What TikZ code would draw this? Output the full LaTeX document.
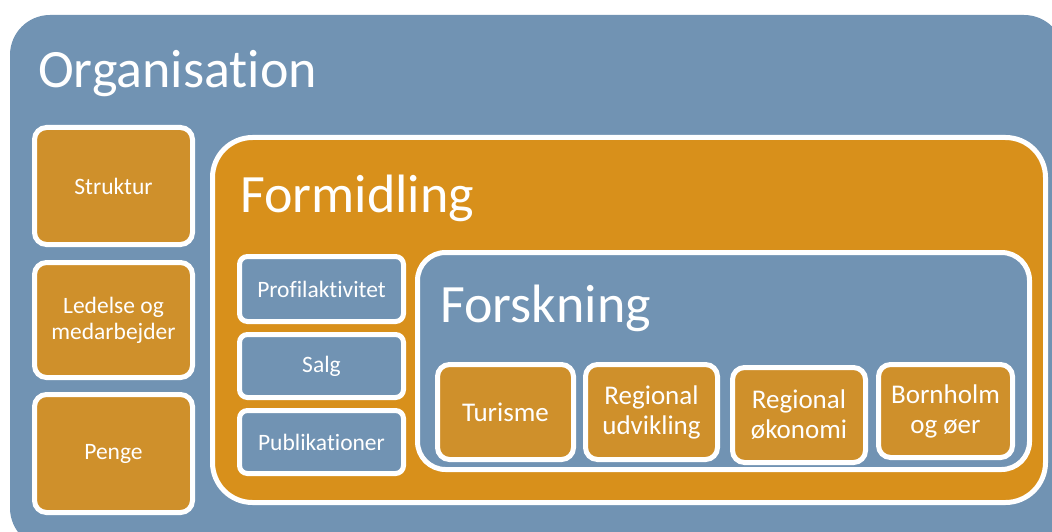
\documentclass[tikz,border=0pt]{standalone}
\usepackage{fontspec}
\setmainfont{Carlito}[Ligatures=NoCommon]
\definecolor{orgblue}{HTML}{7193B3}
\definecolor{smallorange}{HTML}{CF902B}
\definecolor{formorange}{HTML}{D8901B}
\tikzset{
  box/.style={draw=white, line width=5pt, anchor=north west, inner sep=0pt, outer sep=0pt, text=white, align=center},
  smallbox/.style={box, fill=smallorange, rounded corners=12pt, font=\fontsize{23.5}{26}\selectfont},
  bluebox/.style={box, fill=orgblue, rounded corners=8pt, font=\fontsize{23.5}{26}\selectfont},
  resbox/.style={box, fill=smallorange, rounded corners=12pt, font=\fontsize{27}{30}\selectfont},
  title/.style={anchor=base west, text=white, inner sep=0pt, font=\fontsize{54}{60}\selectfont},
}
\begin{document}
\begin{tikzpicture}[x=1pt,y=-1pt]
\useasboundingbox (0,0) rectangle (1052,532);
\begin{scope}
\clip (0,0) rectangle (1052,532);
\fill[orgblue, rounded corners=40pt] (10,15) rectangle (1064,548);
\end{scope}
\node[title] (orgtitle) at (38,88) {Organisation};
% left column
\node[smallbox, minimum width=158pt, minimum height=117pt] (struktur) at (34.5,127.5) {Struktur};
\node[smallbox, minimum width=158pt, minimum height=115pt] (ledelse) at (34.5,262.5) {Ledelse og\\medarbejder};
\node[smallbox, minimum width=158pt, minimum height=118pt] (penge) at (34.5,394.5) {Penge};
% Formidling
\node[box, fill=formorange, rounded corners=40pt, minimum width=833pt, minimum height=365pt] (formidling) at (212.5,137.5) {};
\node[title] (formtitle) at (240,212) {Formidling};
\node[bluebox, minimum width=164pt, minimum height=65pt] (profil) at (239.5,256.5) {Profilaktivitet};
\node[bluebox, minimum width=164pt, minimum height=63pt] (salg) at (239.5,334.5) {Salg};
\node[bluebox, minimum width=164pt, minimum height=63pt] (publ) at (239.5,410.5) {Publikationer};
% Forskning
\node[box, fill=orgblue, rounded corners=28pt, minimum width=612pt, minimum height=217pt] (forskning) at (417.5,252.5) {};
\node[title] (forsktitle) at (440,322) {Forskning};
\node[resbox, minimum width=136pt, minimum height=95pt] (turisme) at (437.5,364.5) {Turisme};
\node[resbox, minimum width=132pt, minimum height=95pt] (regudv) at (585.5,364.5) {Regional\\udvikling};
\node[resbox, minimum width=133pt, minimum height=95pt] (regok) at (732.5,367.5) {Regional\\økonomi};
\node[resbox, minimum width=134pt, minimum height=93pt] (bornholm) at (878.5,364.5) {Bornholm\\og øer};
\end{tikzpicture}
\end{document}
